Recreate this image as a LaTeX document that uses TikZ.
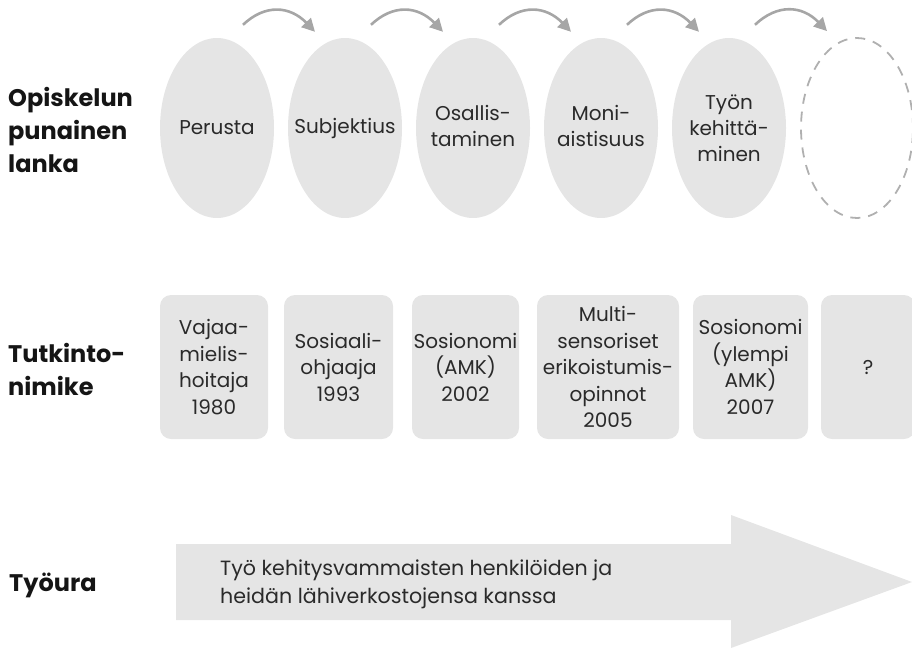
\documentclass[tikz,border=0pt]{standalone}
\usepackage{fontspec}
\setmainfont{Poppins}
\usetikzlibrary{shapes.geometric,arrows.meta,calc}
\definecolor{paleGrey}{HTML}{E5E5E5}
\definecolor{ink}{HTML}{2A2A2A}
\definecolor{heading}{HTML}{151515}
\definecolor{arcgrey}{HTML}{A6A6A6}
\definecolor{dashgrey}{HTML}{B0B0B0}
\tikzset{
  rowlabel/.style={anchor=west,align=left,text=heading,font=\bfseries\fontsize{24}{33}\selectfont,inner sep=0pt},
  phase/.style={ellipse,fill=paleGrey,minimum width=114pt,minimum height=180pt,inner sep=0pt},
  phasetext/.style={inner sep=0pt,align=center,text=ink,font=\fontsize{20}{26}\selectfont},
  openphase/.style={ellipse,draw=dashgrey,line width=1.8pt,dash pattern=on 10pt off 8pt,minimum width=112pt,minimum height=180pt,inner sep=0pt},
  degree/.style={rectangle,rounded corners=11pt,fill=paleGrey,minimum height=144pt,inner sep=0pt,align=center,text=ink,font=\fontsize{20}{26.5}\selectfont},
  stepcurve/.style={draw=arcgrey,line width=2.6pt,-{Triangle[length=13pt,width=13pt]}},
}
\begin{document}
\begin{tikzpicture}[x=1pt,y=-1pt]
\useasboundingbox (0,0) rectangle (912,648);
\clip (0,0) rectangle (912,648);

% row labels
\node[rowlabel] (lab1) at (8,130) {Opiskelun\\punainen\\lanka};
\node[rowlabel] (lab2) at (8,369) {Tutkinto-\\nimike};
\node[rowlabel] (lab3) at (9,585) {Työura};

% phases of study: fixed-size ellipses with their captions on top
\node[phase] (e1) at (217,128) {};
\node[phase] (e2) at (345,128) {};
\node[phase] (e3) at (473,128) {};
\node[phase] (e4) at (601,128) {};
\node[phase] (e5) at (729,128) {};
\node[openphase] (e6) at (857,128) {};
\node[phasetext] (t1) at (e1) {Perusta};
\node[phasetext] (t2) at (e2) {Subjektius};
\node[phasetext] (t3) at ($(e3)+(0,-2)$) {Osallis-\\taminen};
\node[phasetext] (t4) at ($(e4)+(0,-2)$) {Moni-\\aistisuus};
\node[phasetext] (t5) at (e5) {Työn\\kehittä-\\minen};

% curved arrows between phases
\foreach \a/\b in {e1/e2,e2/e3,e3/e4,e4/e5,e5/e6}{
  \draw[stepcurve] ($(\a.north)+(26,-13)$) .. controls ($(\a.north)+(48,-34)$) and ($(\b.north)+(-55,-32)$) .. ($(\b.north)+(-30,-6)$);
}

% degree titles
\node[degree,minimum width=108pt] (b1) at (214,367) {Vajaa-\\mielis-\\hoitaja\\1980};
\node[degree,minimum width=109pt] (b2) at (338.5,367) {Sosiaali-\\ohjaaja\\1993};
\node[degree,minimum width=107pt] (b3) at (465.5,367) {Sosionomi\\(AMK)\\2002};
\node[degree,minimum width=142pt] (b4) at (608,367) {Multi-\\sensoriset\\erikoistumis-\\opinnot\\2005};
\node[degree,minimum width=115pt] (b5) at (750.5,367) {Sosionomi\\(ylempi\\AMK)\\2007};
\node[degree,minimum width=94pt] (b6) at (868,367) {?};

% career arrow
\fill[paleGrey] (176,544) -- (731,544) -- (731,515) -- (912,582) -- (731,648) -- (731,620) -- (176,620) -- cycle;
\node[anchor=west,align=left,text=ink,inner sep=0pt,font=\fontsize{20.6}{28}\selectfont] (career) at (220,584)
  {Työ kehitysvammaisten henkilöiden ja\\heidän lähiverkostojensa kanssa};
\end{tikzpicture}
\end{document}
